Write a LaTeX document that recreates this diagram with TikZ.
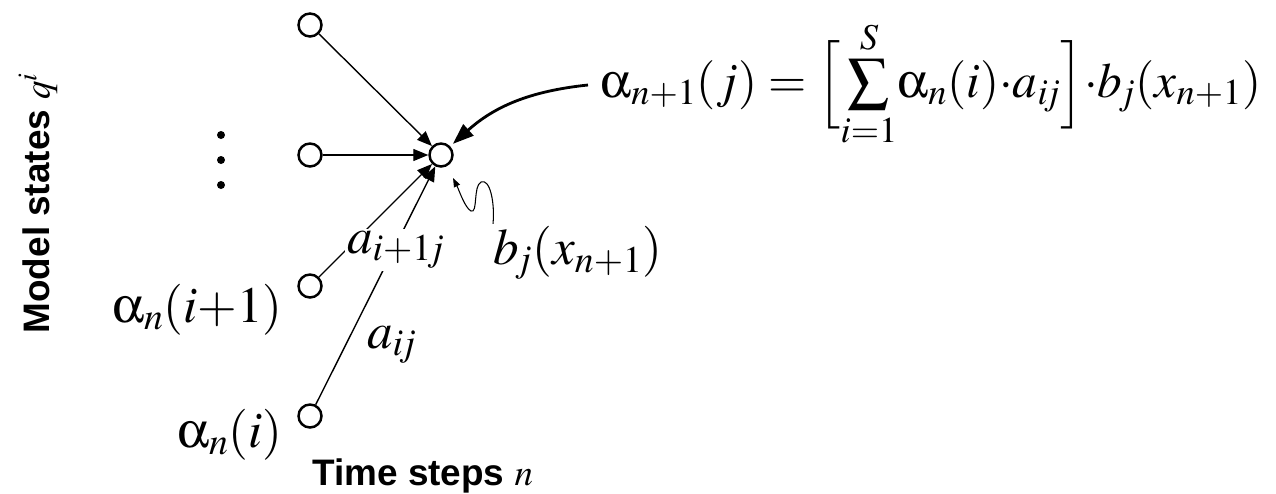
\documentclass[tikz,border=0pt]{standalone}
\usepackage{mathptmx}
\usepackage[Symbol]{upgreek}
\usepackage{fontspec}
\setmainfont{Liberation Serif}
\setsansfont{Liberation Sans}
\usetikzlibrary{positioning,arrows.meta}

\begin{document}
\begin{tikzpicture}[x=0.02cm,y=-0.02cm,
    state/.style={circle,draw,line width=1.4pt,minimum size=0.46cm,inner sep=0pt},
    trans/.style={line width=0.8pt,-{Triangle[length=0.3cm,width=0.24cm]}},
    mlabel/.style={font=\fontsize{29}{34}\selectfont,inner sep=0pt},
    axislabel/.style={font=\fontsize{21}{25}\selectfont\sffamily\bfseries,inner sep=0pt}]
  \useasboundingbox (0,0) rectangle (1276,494);
  % ---- states at time n ----
  \node[state] (s1) at (310,25) {};
  \node[state] (s2) at (310,155) {};
  \node[state] (s3) at (310,286) {};
  \node[state] (s4) at (310,416) {};
  \foreach \y in {135,160,185}
    \fill (221,\y) circle (0.08cm);
  % ---- state j at time n+1 ----
  \node[state] (sj) at (441,155) {};
  % ---- transitions ----
  \draw[trans] (s1) -- (sj);
  \draw[trans] (s2) -- (sj);
  \draw[trans] (s3) -- (sj);
  \draw[trans] (s4) -- (sj);
  \node[mlabel,fill=white,inner sep=1pt] (ai1j) at (396,250) {$a_{i+1\!j}$};
  \node[mlabel] (aij) at (392,345) {$a_{i\!j}$};
  % ---- forward variables ----
  \node[mlabel,anchor=base east] (al1) at (283,322) {$\upalpha_n(i{+}1)$};
  \node[mlabel,anchor=base east] (al0) at (283,447) {$\upalpha_n(i)$};
  % ---- emission ----
  \node[mlabel] (bj) at (578,253) {$b_{\!j}(x_{n+1})$};
  \draw[line width=0.6pt,-{Triangle[length=0.18cm,width=0.13cm]}]
    ([shift={(0,-2)}]bj.north west) .. controls (495,203) and (490,178) .. (481,182)
    .. controls (473,186) and (478,214) .. (471,211)
    .. controls (465,208) and (459,190) .. ([shift={(12,23)}]sj.center);
  % ---- recursion ----
  \node[mlabel,font=\fontsize{28}{33}\selectfont,anchor=base west] (fwd) at (600,97)
    {$\upalpha_{n+1}(j) = \Big[\!\mathop{\vcenter{\hbox{\scalebox{1.2}{$\sum$}}}}\limits_{i=1}^{S}\!\upalpha_n(i){\cdot}a_{i\!j}\Big]{\cdot}b_{\!j}(x_{n+1})$};
  \draw[line width=1.6pt,-{Triangle[length=0.42cm,width=0.3cm]},shorten >=2pt]
    ([shift={(-12,-12)}]fwd.base west) to[bend right=18] (sj);
  % ---- axes ----
  \node[axislabel,rotate=90] (ylab) at (38,203) {Model states $q^i$};
  \node[axislabel,anchor=base west] (xlab) at (312,485) {Time steps $n$};
\end{tikzpicture}
\end{document}
